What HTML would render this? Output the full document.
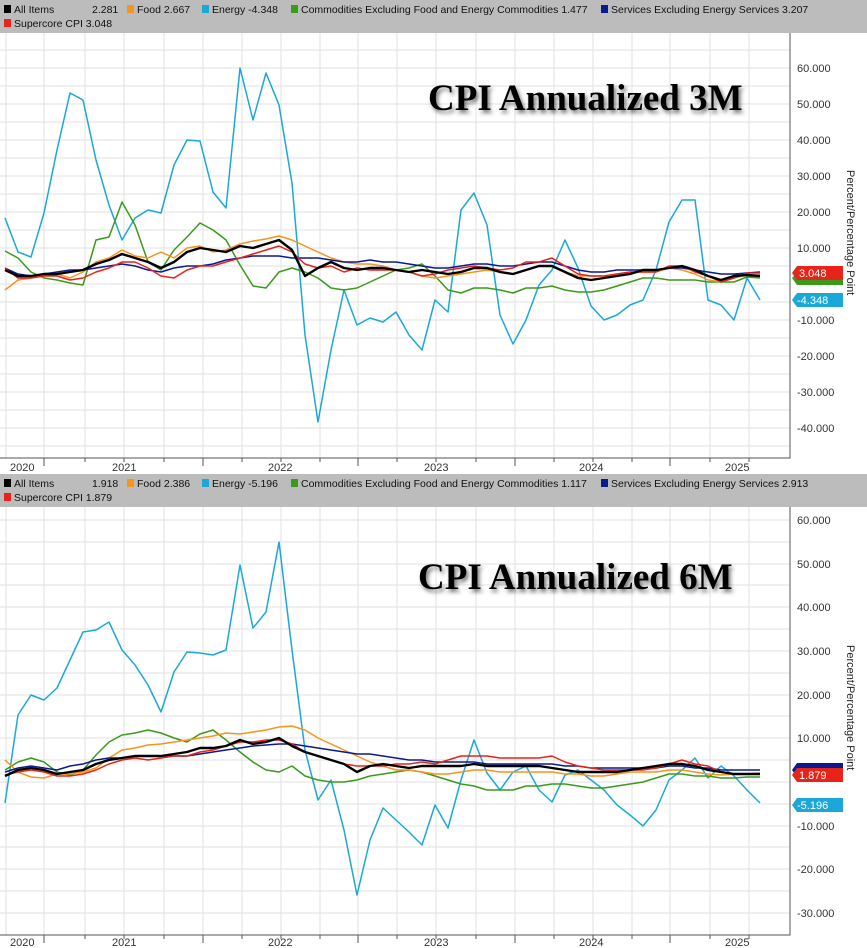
<!DOCTYPE html>
<html><head><meta charset="utf-8"><style>
body{margin:0;width:867px;height:948px;background:#fff;overflow:hidden;font-family:"Liberation Sans",sans-serif}
svg{display:block}
</style></head><body>
<svg width="867" height="948" viewBox="0 0 867 948" xmlns="http://www.w3.org/2000/svg" font-family="Liberation Sans, sans-serif">
<defs>
<filter id="sh" x="-10%" y="-30%" width="130%" height="180%"><feDropShadow dx="2" dy="3" stdDeviation="2" flood-color="#000" flood-opacity="0.55"/></filter>
</defs>
<!-- Panel 1 -->
<rect x="0" y="0" width="867" height="33" fill="#bcbcbc"/>
<g font-size="10.5" fill="#111" style="font-stretch:condensed">
<rect x="4" y="5" width="7" height="8" fill="#000"/><text x="14" y="13">All Items</text><text x="92" y="13">2.281</text>
<rect x="127" y="5" width="7" height="8" fill="#f7941d"/><text x="137" y="13">Food 2.667</text>
<rect x="202" y="5" width="7" height="8" fill="#1ba8d8"/><text x="212" y="13">Energy -4.348</text>
<rect x="291" y="5" width="7" height="8" fill="#3a9a1a"/><text x="301" y="13">Commodities Excluding Food and Energy Commodities 1.477</text>
<rect x="601" y="5" width="7" height="8" fill="#0a1a8f"/><text x="611" y="13">Services Excluding Energy Services 3.207</text>
<rect x="4" y="19" width="7" height="8" fill="#e8231a"/><text x="14" y="27">Supercore CPI 3.048</text>
</g>
<g stroke="#e2e2e2" stroke-width="1">
<path d="M0 50H790M0 68H790M0 86H790M0 104H790M0 122H790M0 140H790M0 158H790M0 176H790M0 194H790M0 212H790M0 230H790M0 248H790M0 266H790M0 284H790M0 302H790M0 320H790M0 338H790M0 356H790M0 374H790M0 392H790M0 410H790M0 428H790M0 446H790"/>
<path d="M44 33V458M85 33V458M124 33V458M164 33V458M203 33V458M242 33V458M281 33V458M320 33V458M358 33V458M397 33V458M436 33V458M476 33V458M515 33V458M554 33V458M593 33V458M632 33V458M670 33V458M710 33V458M749 33V458M6 33V458"/>
</g>
<path d="M0 458H790V33" fill="none" stroke="#555" stroke-width="1"/>
<g stroke="#555"><path d="M44 458v8M203 458v8M358 458v8M515 458v8M670 458v8M85 458v4M124 458v4M164 458v4M242 458v4M281 458v4M320 458v4M397 458v4M436 458v4M476 458v4M554 458v4M593 458v4M632 458v4M710 458v4M749 458v4"/></g>
<g font-size="11" fill="#333"><text x="10" y="471">2020</text><text x="112" y="471">2021</text><text x="268" y="471">2022</text><text x="424" y="471">2023</text><text x="579" y="471">2024</text><text x="725" y="471">2025</text></g>
<g font-size="11" fill="#333"><text x="797" y="72">60.000</text><text x="797" y="108">50.000</text><text x="797" y="144">40.000</text><text x="797" y="180">30.000</text><text x="797" y="216">20.000</text><text x="797" y="252">10.000</text><text x="797" y="324">-10.000</text><text x="797" y="360">-20.000</text><text x="797" y="396">-30.000</text><text x="797" y="432">-40.000</text></g>
<text transform="translate(847,170) rotate(90)" font-size="11" fill="#222">Percent/Percentage Point</text>
<g fill="none" stroke-width="1.5" stroke-linejoin="round">
<polyline stroke="#1ba8d8" points="5,218 18,252 31,257 44,213 57,150 70,93 83,100 96,160 109,205 122,240 135,218 148,210 161,213 174,165 187,140 200,141 213,192 226,208 240,68 253,120 266,73 279,105 292,183 305,335 318,422 331,350 344,290 357,325 370,318 383,322 396,312 409,335 422,350 435,300 448,312 461,210 474,193 487,225 500,315 513,344 526,320 539,285 552,270 565,240 578,268 591,306 604,320 617,315 630,305 643,300 656,270 669,222 682,200 695,200 708,300 721,305 734,320 747,278 760,300"/>
<polyline stroke="#3a9a1a" points="5,251 18,258 31,272 44,278 57,280 70,283 83,285 96,240 109,237 122,202 135,225 148,262 161,270 174,250 187,237 200,223 213,230 226,240 240,265 253,286 266,288 279,272 292,268 305,272 318,278 331,288 344,290 357,288 370,282 383,276 396,270 409,268 422,264 435,276 448,290 461,293 474,288 487,288 500,290 513,293 526,288 539,288 552,286 565,290 578,292 591,292 604,290 617,286 630,282 643,278 656,278 669,280 682,280 695,280 708,282 721,282 734,282 747,277 760,278"/>
<polyline stroke="#f7941d" points="5,290 18,280 31,278 44,276 57,274 70,278 83,272 96,262 109,258 122,250 135,256 148,258 161,252 174,258 187,248 200,246 213,252 226,250 240,244 253,241 266,239 279,236 292,240 305,246 318,252 331,258 344,262 357,264 370,264 383,266 396,270 409,272 422,276 435,278 448,276 461,274 474,272 487,270 500,272 513,274 526,270 539,266 552,266 565,272 578,276 591,276 604,276 617,274 630,272 643,272 656,272 669,268 682,270 695,274 708,280 721,282 734,278 747,275 760,275"/>
<polyline stroke="#0a1a8f" points="5,268 18,274 31,276 44,274 57,272 70,270 83,270 96,268 109,266 122,264 135,266 148,270 161,272 174,268 187,266 200,266 213,264 226,260 240,258 253,256 266,256 279,256 292,258 305,258 318,258 331,260 344,262 357,262 370,260 383,262 396,262 409,264 422,266 435,268 448,268 461,266 474,264 487,264 500,266 513,266 526,264 539,262 552,262 565,266 578,270 591,272 604,272 617,270 630,270 643,270 656,270 669,268 682,268 695,270 708,272 721,274 734,274 747,273 760,272"/>
<polyline stroke="#e8231a" points="5,268 18,278 31,278 44,276 57,276 70,280 83,278 96,272 109,268 122,262 135,262 148,268 161,276 174,278 187,270 200,266 213,266 226,262 240,258 253,254 266,250 279,246 292,252 305,264 318,268 331,266 344,272 357,268 370,270 383,270 396,270 409,272 422,276 435,274 448,270 461,268 474,266 487,268 500,270 513,268 526,262 539,262 552,258 565,266 578,274 591,276 604,276 617,274 630,272 643,272 656,272 669,266 682,266 695,272 708,276 721,282 734,278 747,273 760,273"/>
<polyline stroke="#000" stroke-width="2.4" points="5,270 18,276 31,276 44,274 57,274 70,272 83,270 96,264 109,260 122,254 135,258 148,262 161,268 174,262 187,252 200,248 213,250 226,252 240,246 253,248 266,244 279,240 292,250 305,276 318,268 331,262 344,268 357,270 370,268 383,268 396,270 409,272 422,270 435,272 448,274 461,272 474,268 487,268 500,272 513,274 526,270 539,266 552,266 565,272 578,278 591,280 604,278 617,276 630,274 643,270 656,270 669,268 682,266 695,270 708,276 721,280 734,276 747,275 760,276"/>
</g>
<path d="M791 279l4-5h-0z" fill="none"/>
<g font-size="11">
<path d="M792 278l5-5h46v12h-46z" fill="#3a9a1a"/>
<path d="M792 273l5-7h46v14h-46z" fill="#e8231a"/><text x="799" y="277" fill="#fff">3.048</text>
<path d="M792 300l5-7h46v14h-46z" fill="#1ba8d8"/><text x="797" y="304" fill="#fff">-4.348</text>
</g>
<text x="428" y="110" font-family="Liberation Serif, serif" font-weight="bold" font-size="37" fill="#000" filter="url(#sh)">CPI Annualized 3M</text>

<!-- Panel 2 -->
<rect x="0" y="474" width="867" height="33" fill="#bcbcbc"/>
<g font-size="10.5" fill="#111">
<rect x="4" y="479" width="7" height="8" fill="#000"/><text x="14" y="487">All Items</text><text x="92" y="487">1.918</text>
<rect x="127" y="479" width="7" height="8" fill="#f7941d"/><text x="137" y="487">Food 2.386</text>
<rect x="202" y="479" width="7" height="8" fill="#1ba8d8"/><text x="212" y="487">Energy -5.196</text>
<rect x="291" y="479" width="7" height="8" fill="#3a9a1a"/><text x="301" y="487">Commodities Excluding Food and Energy Commodities 1.117</text>
<rect x="601" y="479" width="7" height="8" fill="#0a1a8f"/><text x="611" y="487">Services Excluding Energy Services 2.913</text>
<rect x="4" y="493" width="7" height="8" fill="#e8231a"/><text x="14" y="501">Supercore CPI 1.879</text>
</g>
<g stroke="#e2e2e2" stroke-width="1">
<path d="M0 520H790M0 542H790M0 564H790M0 585H790M0 607H790M0 629H790M0 651H790M0 673H790M0 695H790M0 716H790M0 738H790M0 760H790M0 782H790M0 804H790M0 826H790M0 847H790M0 869H790M0 891H790M0 913H790"/>
<path d="M44 507V935M85 507V935M124 507V935M164 507V935M203 507V935M242 507V935M281 507V935M320 507V935M358 507V935M397 507V935M436 507V935M476 507V935M515 507V935M554 507V935M593 507V935M632 507V935M670 507V935M710 507V935M749 507V935M6 507V935"/>
</g>
<path d="M0 935H790V507" fill="none" stroke="#555" stroke-width="1"/>
<g stroke="#555"><path d="M44 935v8M203 935v8M358 935v8M515 935v8M670 935v8M85 935v4M124 935v4M164 935v4M242 935v4M281 935v4M320 935v4M397 935v4M436 935v4M476 935v4M554 935v4M593 935v4M632 935v4M710 935v4M749 935v4"/></g>
<g font-size="11" fill="#333"><text x="10" y="946">2020</text><text x="112" y="946">2021</text><text x="268" y="946">2022</text><text x="424" y="946">2023</text><text x="579" y="946">2024</text><text x="725" y="946">2025</text></g>
<g font-size="11" fill="#333"><text x="797" y="524">60.000</text><text x="797" y="568">50.000</text><text x="797" y="611">40.000</text><text x="797" y="655">30.000</text><text x="797" y="699">20.000</text><text x="797" y="742">10.000</text><text x="797" y="830">-10.000</text><text x="797" y="873">-20.000</text><text x="797" y="917">-30.000</text></g>
<text transform="translate(847,645) rotate(90)" font-size="11" fill="#222">Percent/Percentage Point</text>
<g fill="none" stroke-width="1.5" stroke-linejoin="round">
<polyline stroke="#1ba8d8" points="5,803 18,715 31,695 44,700 57,688 70,660 83,632 96,630 109,622 122,650 135,665 148,685 161,712 174,672 187,652 200,653 213,655 226,650 240,565 253,628 266,612 279,542 292,650 305,750 318,800 331,780 344,830 357,895 370,840 383,808 396,820 409,832 422,845 435,805 448,828 461,780 474,740 487,773 500,790 513,772 526,766 539,790 552,802 565,775 578,770 591,780 604,790 617,805 630,815 643,826 656,810 669,780 682,770 695,758 708,778 721,766 734,776 747,790 760,803"/>
<polyline stroke="#3a9a1a" points="5,770 18,762 31,758 44,762 57,772 70,775 83,770 96,755 109,742 122,735 135,733 148,730 161,733 174,738 187,742 200,734 213,730 226,740 240,752 253,762 266,770 279,772 292,766 305,776 318,780 331,782 344,782 357,780 370,776 383,774 396,772 409,770 422,772 435,776 448,780 461,784 474,786 487,790 500,790 513,790 526,786 539,786 552,784 565,784 578,786 591,788 604,788 617,786 630,784 643,782 656,778 669,774 682,774 695,776 708,776 721,778 734,778 747,777 760,777"/>
<polyline stroke="#f7941d" points="5,760 18,772 31,777 44,778 57,774 70,774 83,772 96,768 109,758 122,750 135,748 148,745 161,744 174,742 187,740 200,738 213,736 226,733 240,734 253,732 266,730 279,727 292,726 305,730 318,738 331,744 344,750 357,756 370,762 383,766 396,770 409,770 422,772 435,774 448,774 461,772 474,770 487,770 500,772 513,772 526,772 539,772 552,772 565,774 578,774 591,776 604,776 617,774 630,772 643,772 656,772 669,770 682,770 695,772 708,774 721,775 734,774 747,774 760,773"/>
<polyline stroke="#0a1a8f" points="5,772 18,768 31,766 44,768 57,770 70,766 83,764 96,760 109,758 122,758 135,756 148,756 161,756 174,756 187,756 200,754 213,752 226,750 240,748 253,746 266,745 279,744 292,744 305,746 318,748 331,750 344,752 357,754 370,754 383,756 396,758 409,760 422,760 435,762 448,762 461,762 474,762 487,764 500,764 513,764 526,764 539,764 552,764 565,766 578,766 591,768 604,768 617,768 630,768 643,768 656,768 669,766 682,766 695,768 708,768 721,770 734,770 747,770 760,770"/>
<polyline stroke="#e8231a" points="5,775 18,772 31,770 44,772 57,776 70,776 83,774 96,770 109,764 122,760 135,758 148,760 161,758 174,756 187,756 200,752 213,750 226,746 240,742 253,742 266,740 279,740 292,744 305,752 318,756 331,760 344,764 357,766 370,766 383,766 396,764 409,764 422,762 435,764 448,760 461,756 474,756 487,756 500,758 513,758 526,758 539,758 552,756 565,762 578,766 591,768 604,770 617,770 630,770 643,770 656,768 669,764 682,760 695,764 708,766 721,772 734,774 747,774 760,774"/>
<polyline stroke="#000" stroke-width="2.4" points="5,776 18,770 31,768 44,770 57,774 70,772 83,770 96,764 109,760 122,758 135,756 148,756 161,756 174,754 187,752 200,748 213,748 226,746 240,740 253,744 266,742 279,738 292,746 305,752 318,756 331,760 344,764 357,772 370,766 383,764 396,766 409,768 422,766 435,766 448,766 461,766 474,764 487,766 500,766 513,766 526,766 539,766 552,768 565,770 578,772 591,772 604,772 617,772 630,770 643,768 656,766 669,764 682,764 695,766 708,770 721,772 734,774 747,774 760,774"/>
</g>
<g font-size="11">
<path d="M792 770l5-7h46v14h-46z" fill="#0a1a8f"/>
<path d="M792 775l5-7h46v14h-46z" fill="#e8231a"/><text x="799" y="779" fill="#fff">1.879</text>
<path d="M792 805l5-7h46v14h-46z" fill="#1ba8d8"/><text x="797" y="809" fill="#fff">-5.196</text>
</g>
<text x="418" y="589" font-family="Liberation Serif, serif" font-weight="bold" font-size="37" fill="#000" filter="url(#sh)">CPI Annualized 6M</text>
</svg>
</body></html>
